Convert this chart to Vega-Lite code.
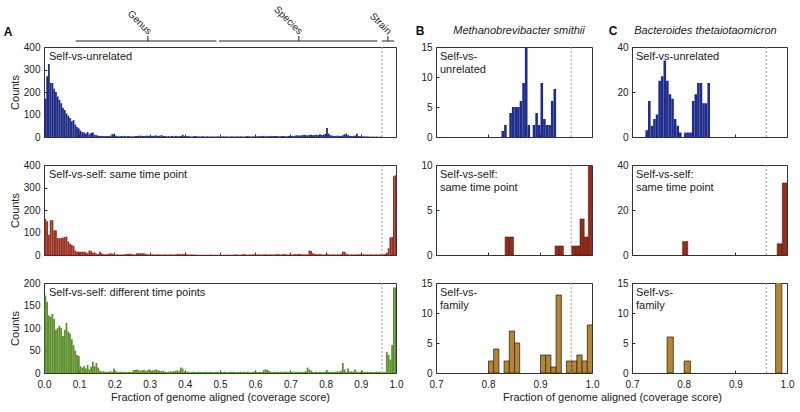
{
"$schema": "https://vega.github.io/schema/vega-lite/v6.json",
"padding": {"left": 3, "top": 3, "right": 0, "bottom": 0},
"columns": 3,
"bounds": "flush",
"spacing": {"row": 28, "column": 40},
"config": {
  "view": {"stroke": "#333333", "strokeWidth": 1},
  "font": "Liberation Sans",
  "axis": {"grid": false, "domain": false, "tickColor": "#333333", "tickSize": -3, "tickWidth": 1, "labelFontSize": 10, "labelColor": "#222222", "titleFontSize": 11, "titleFontWeight": "normal", "titleColor": "#222222", "labelFont": "Liberation Sans", "titleFont": "Liberation Sans", "labelFlush": false, "labelOverlap": false},
  "axisX": {"labelPadding": 9, "titlePadding": 2, "labelOverlap": false},
  "axisY": {"labelPadding": 7, "titlePadding": 3, "labelOverlap": false},
  "text": {"font": "Liberation Sans"}
},
"datasets": {
"brackets": [{"lab":"Genus","lo":0.09,"hi":0.49,"m":0.295},{"lab":"Species","lo":0.497,"hi":0.947,"m":0.724},{"lab":"Strain","lo":0.96,"hi":0.995,"m":0.977}],
"Au": [{"x":0,"c":170},{"x":0.005,"c":270},{"x":0.01,"c":325},{"x":0.015,"c":240},{"x":0.02,"c":240},{"x":0.025,"c":215},{"x":0.03,"c":200},{"x":0.035,"c":180},{"x":0.04,"c":165},{"x":0.045,"c":150},
{"x":0.05,"c":130},{"x":0.055,"c":120},{"x":0.06,"c":105},{"x":0.065,"c":95},{"x":0.07,"c":85},{"x":0.075,"c":70},{"x":0.08,"c":75},{"x":0.085,"c":55},{"x":0.09,"c":45},{"x":0.095,"c":38},
{"x":0.1,"c":28},{"x":0.105,"c":22},{"x":0.11,"c":20},{"x":0.115,"c":15},{"x":0.12,"c":22},{"x":0.125,"c":12},{"x":0.13,"c":18},{"x":0.135,"c":20},{"x":0.14,"c":10},{"x":0.145,"c":8},
{"x":0.15,"c":6},{"x":0.155,"c":5},{"x":0.16,"c":5},{"x":0.165,"c":4},{"x":0.17,"c":4},{"x":0.175,"c":5},{"x":0.18,"c":4},{"x":0.185,"c":6},{"x":0.19,"c":12},{"x":0.195,"c":14},
{"x":0.2,"c":6},{"x":0.205,"c":4},{"x":0.21,"c":3},{"x":0.215,"c":4},{"x":0.22,"c":3},{"x":0.225,"c":5},{"x":0.23,"c":3},{"x":0.235,"c":4},{"x":0.24,"c":3},{"x":0.245,"c":3},
{"x":0.25,"c":3},{"x":0.255,"c":4},{"x":0.26,"c":4},{"x":0.265,"c":5},{"x":0.27,"c":6},{"x":0.275,"c":5},{"x":0.28,"c":4},{"x":0.285,"c":5},{"x":0.29,"c":6},{"x":0.295,"c":5},
{"x":0.3,"c":4},{"x":0.305,"c":5},{"x":0.31,"c":6},{"x":0.315,"c":7},{"x":0.32,"c":5},{"x":0.325,"c":6},{"x":0.33,"c":8},{"x":0.335,"c":5},{"x":0.34,"c":4},{"x":0.345,"c":3},
{"x":0.35,"c":4},{"x":0.355,"c":3},{"x":0.36,"c":4},{"x":0.365,"c":3},{"x":0.37,"c":5},{"x":0.375,"c":4},{"x":0.38,"c":3},{"x":0.385,"c":4},{"x":0.39,"c":10},{"x":0.395,"c":4},
{"x":0.4,"c":3},{"x":0.405,"c":4},{"x":0.41,"c":3},{"x":0.415,"c":2},{"x":0.42,"c":3},{"x":0.425,"c":4},{"x":0.43,"c":3},{"x":0.435,"c":3},{"x":0.44,"c":2},{"x":0.445,"c":3},
{"x":0.45,"c":3},{"x":0.455,"c":2},{"x":0.46,"c":3},{"x":0.465,"c":2},{"x":0.47,"c":2},{"x":0.475,"c":3},{"x":0.48,"c":2},{"x":0.485,"c":2},{"x":0.49,"c":3},{"x":0.495,"c":2},
{"x":0.5,"c":2},{"x":0.505,"c":3},{"x":0.51,"c":2},{"x":0.515,"c":3},{"x":0.52,"c":2},{"x":0.525,"c":2},{"x":0.53,"c":3},{"x":0.535,"c":2},{"x":0.54,"c":2},{"x":0.545,"c":3},
{"x":0.55,"c":2},{"x":0.555,"c":3},{"x":0.56,"c":2},{"x":0.565,"c":2},{"x":0.57,"c":3},{"x":0.575,"c":4},{"x":0.58,"c":3},{"x":0.585,"c":2},{"x":0.59,"c":3},{"x":0.595,"c":2},
{"x":0.6,"c":3},{"x":0.605,"c":4},{"x":0.61,"c":3},{"x":0.615,"c":4},{"x":0.62,"c":5},{"x":0.625,"c":3},{"x":0.63,"c":4},{"x":0.635,"c":3},{"x":0.64,"c":5},{"x":0.645,"c":4},
{"x":0.65,"c":4},{"x":0.655,"c":5},{"x":0.66,"c":4},{"x":0.665,"c":3},{"x":0.67,"c":4},{"x":0.675,"c":5},{"x":0.68,"c":4},{"x":0.685,"c":3},{"x":0.69,"c":5},{"x":0.695,"c":4},
{"x":0.7,"c":5},{"x":0.705,"c":4},{"x":0.71,"c":6},{"x":0.715,"c":8},{"x":0.72,"c":6},{"x":0.725,"c":7},{"x":0.73,"c":8},{"x":0.735,"c":10},{"x":0.74,"c":8},{"x":0.745,"c":7},
{"x":0.75,"c":9},{"x":0.755,"c":10},{"x":0.76,"c":8},{"x":0.765,"c":9},{"x":0.77,"c":10},{"x":0.775,"c":8},{"x":0.78,"c":12},{"x":0.785,"c":9},{"x":0.79,"c":10},{"x":0.795,"c":14},
{"x":0.8,"c":40},{"x":0.805,"c":15},{"x":0.81,"c":8},{"x":0.815,"c":6},{"x":0.82,"c":5},{"x":0.825,"c":4},{"x":0.83,"c":6},{"x":0.835,"c":5},{"x":0.84,"c":4},{"x":0.845,"c":8},
{"x":0.85,"c":12},{"x":0.855,"c":15},{"x":0.86,"c":8},{"x":0.865,"c":5},{"x":0.87,"c":4},{"x":0.875,"c":5},{"x":0.88,"c":6},{"x":0.885,"c":15},{"x":0.89,"c":5},{"x":0.895,"c":3},
{"x":0.9,"c":2},{"x":0.905,"c":3},{"x":0.91,"c":2},{"x":0.915,"c":3},{"x":0.92,"c":2},{"x":0.925,"c":1},{"x":0.93,"c":2},{"x":0.935,"c":1},{"x":0.94,"c":2},{"x":0.945,"c":1},
{"x":0.95,"c":1},{"x":0.955,"c":2}],
"As": [{"x":0,"c":160},{"x":0.005,"c":150},{"x":0.01,"c":90},{"x":0.015,"c":155},{"x":0.02,"c":155},{"x":0.025,"c":110},{"x":0.03,"c":110},{"x":0.035,"c":75},{"x":0.04,"c":75},{"x":0.045,"c":75},
{"x":0.05,"c":78},{"x":0.055,"c":80},{"x":0.06,"c":82},{"x":0.065,"c":60},{"x":0.07,"c":50},{"x":0.075,"c":45},{"x":0.08,"c":40},{"x":0.085,"c":20},{"x":0.09,"c":15},{"x":0.095,"c":15},
{"x":0.1,"c":14},{"x":0.105,"c":15},{"x":0.11,"c":15},{"x":0.115,"c":12},{"x":0.12,"c":8},{"x":0.125,"c":20},{"x":0.13,"c":18},{"x":0.135,"c":10},{"x":0.14,"c":12},{"x":0.145,"c":6},
{"x":0.15,"c":5},{"x":0.155,"c":15},{"x":0.16,"c":8},{"x":0.165,"c":4},{"x":0.17,"c":3},{"x":0.175,"c":3},{"x":0.18,"c":5},{"x":0.185,"c":8},{"x":0.19,"c":6},{"x":0.195,"c":3},
{"x":0.2,"c":2},{"x":0.205,"c":3},{"x":0.21,"c":2},{"x":0.215,"c":2},{"x":0.22,"c":2},{"x":0.225,"c":3},{"x":0.23,"c":5},{"x":0.235,"c":5},{"x":0.24,"c":6},{"x":0.245,"c":4},
{"x":0.25,"c":3},{"x":0.255,"c":2},{"x":0.26,"c":8},{"x":0.265,"c":8},{"x":0.27,"c":8},{"x":0.275,"c":7},{"x":0.28,"c":8},{"x":0.285,"c":5},{"x":0.29,"c":3},{"x":0.295,"c":2},
{"x":0.3,"c":2},{"x":0.305,"c":3},{"x":0.31,"c":2},{"x":0.315,"c":2},{"x":0.32,"c":3},{"x":0.325,"c":2},{"x":0.33,"c":2},{"x":0.335,"c":2},{"x":0.34,"c":3},{"x":0.345,"c":2},
{"x":0.35,"c":2},{"x":0.355,"c":3},{"x":0.36,"c":2},{"x":0.365,"c":2},{"x":0.37,"c":3},{"x":0.375,"c":5},{"x":0.38,"c":4},{"x":0.385,"c":3},{"x":0.39,"c":5},{"x":0.395,"c":4},
{"x":0.4,"c":3},{"x":0.405,"c":2},{"x":0.41,"c":2},{"x":0.415,"c":3},{"x":0.42,"c":2},{"x":0.425,"c":2},{"x":0.43,"c":1},{"x":0.435,"c":1},{"x":0.44,"c":1},{"x":0.445,"c":1},
{"x":0.45,"c":1},{"x":0.455,"c":1},{"x":0.46,"c":1},{"x":0.465,"c":1},{"x":0.47,"c":2},{"x":0.475,"c":1},{"x":0.48,"c":1},{"x":0.485,"c":1},{"x":0.49,"c":1},{"x":0.495,"c":1},
{"x":0.5,"c":1},{"x":0.505,"c":1},{"x":0.51,"c":1},{"x":0.515,"c":1},{"x":0.52,"c":2},{"x":0.525,"c":1},{"x":0.53,"c":1},{"x":0.535,"c":2},{"x":0.54,"c":3},{"x":0.545,"c":2},
{"x":0.55,"c":1},{"x":0.555,"c":2},{"x":0.56,"c":3},{"x":0.565,"c":4},{"x":0.57,"c":2},{"x":0.575,"c":1},{"x":0.58,"c":2},{"x":0.585,"c":2},{"x":0.59,"c":3},{"x":0.595,"c":2},
{"x":0.6,"c":2},{"x":0.605,"c":3},{"x":0.61,"c":2},{"x":0.615,"c":2},{"x":0.62,"c":3},{"x":0.625,"c":4},{"x":0.63,"c":2},{"x":0.635,"c":2},{"x":0.64,"c":3},{"x":0.645,"c":2},
{"x":0.65,"c":2},{"x":0.655,"c":3},{"x":0.66,"c":5},{"x":0.665,"c":3},{"x":0.67,"c":2},{"x":0.675,"c":3},{"x":0.68,"c":4},{"x":0.685,"c":3},{"x":0.69,"c":2},{"x":0.695,"c":3},
{"x":0.7,"c":2},{"x":0.705,"c":3},{"x":0.71,"c":4},{"x":0.715,"c":3},{"x":0.72,"c":5},{"x":0.725,"c":4},{"x":0.73,"c":3},{"x":0.735,"c":2},{"x":0.74,"c":3},{"x":0.745,"c":2},
{"x":0.75,"c":20},{"x":0.755,"c":18},{"x":0.76,"c":8},{"x":0.765,"c":5},{"x":0.77,"c":4},{"x":0.775,"c":3},{"x":0.78,"c":4},{"x":0.785,"c":3},{"x":0.79,"c":2},{"x":0.795,"c":3},
{"x":0.8,"c":4},{"x":0.805,"c":3},{"x":0.81,"c":2},{"x":0.815,"c":3},{"x":0.82,"c":2},{"x":0.825,"c":2},{"x":0.83,"c":3},{"x":0.835,"c":2},{"x":0.84,"c":3},{"x":0.845,"c":15},
{"x":0.85,"c":14},{"x":0.855,"c":6},{"x":0.86,"c":3},{"x":0.865,"c":2},{"x":0.87,"c":3},{"x":0.875,"c":2},{"x":0.88,"c":3},{"x":0.885,"c":2},{"x":0.89,"c":4},{"x":0.895,"c":3},
{"x":0.9,"c":2},{"x":0.905,"c":3},{"x":0.91,"c":2},{"x":0.915,"c":3},{"x":0.92,"c":2},{"x":0.925,"c":3},{"x":0.93,"c":2},{"x":0.935,"c":2},{"x":0.94,"c":3},{"x":0.945,"c":2},
{"x":0.95,"c":3},{"x":0.955,"c":2},{"x":0.96,"c":3},{"x":0.965,"c":5},{"x":0.97,"c":10},{"x":0.975,"c":30},{"x":0.98,"c":78},{"x":0.985,"c":80},{"x":0.99,"c":350},{"x":0.995,"c":355}],
"Ad": [{"x":0,"c":172},{"x":0.005,"c":158},{"x":0.01,"c":128},{"x":0.015,"c":125},{"x":0.02,"c":131},{"x":0.025,"c":120},{"x":0.03,"c":96},{"x":0.035,"c":100},{"x":0.04,"c":105},{"x":0.045,"c":100},
{"x":0.05,"c":82},{"x":0.055,"c":96},{"x":0.06,"c":111},{"x":0.065,"c":92},{"x":0.07,"c":88},{"x":0.075,"c":75},{"x":0.08,"c":62},{"x":0.085,"c":50},{"x":0.09,"c":40},{"x":0.095,"c":38},
{"x":0.1,"c":15},{"x":0.105,"c":12},{"x":0.11,"c":15},{"x":0.115,"c":10},{"x":0.12,"c":18},{"x":0.125,"c":8},{"x":0.13,"c":14},{"x":0.135,"c":25},{"x":0.14,"c":15},{"x":0.145,"c":22},
{"x":0.15,"c":12},{"x":0.155,"c":5},{"x":0.16,"c":3},{"x":0.165,"c":4},{"x":0.17,"c":3},{"x":0.175,"c":2},{"x":0.18,"c":3},{"x":0.185,"c":4},{"x":0.19,"c":3},{"x":0.195,"c":10},
{"x":0.2,"c":4},{"x":0.205,"c":3},{"x":0.21,"c":2},{"x":0.215,"c":3},{"x":0.22,"c":2},{"x":0.225,"c":3},{"x":0.23,"c":2},{"x":0.235,"c":2},{"x":0.24,"c":3},{"x":0.245,"c":2},
{"x":0.25,"c":6},{"x":0.255,"c":7},{"x":0.26,"c":8},{"x":0.265,"c":6},{"x":0.27,"c":5},{"x":0.275,"c":6},{"x":0.28,"c":7},{"x":0.285,"c":5},{"x":0.29,"c":6},{"x":0.295,"c":8},
{"x":0.3,"c":5},{"x":0.305,"c":6},{"x":0.31,"c":7},{"x":0.315,"c":8},{"x":0.32,"c":6},{"x":0.325,"c":5},{"x":0.33,"c":4},{"x":0.335,"c":5},{"x":0.34,"c":3},{"x":0.345,"c":2},
{"x":0.35,"c":3},{"x":0.355,"c":4},{"x":0.36,"c":3},{"x":0.365,"c":4},{"x":0.37,"c":5},{"x":0.375,"c":6},{"x":0.38,"c":4},{"x":0.385,"c":12},{"x":0.39,"c":10},{"x":0.395,"c":3},
{"x":0.4,"c":2},{"x":0.405,"c":3},{"x":0.41,"c":2},{"x":0.415,"c":2},{"x":0.42,"c":3},{"x":0.425,"c":2},{"x":0.43,"c":2},{"x":0.435,"c":3},{"x":0.44,"c":2},{"x":0.445,"c":2},
{"x":0.45,"c":2},{"x":0.455,"c":3},{"x":0.46,"c":2},{"x":0.465,"c":2},{"x":0.47,"c":3},{"x":0.475,"c":2},{"x":0.48,"c":2},{"x":0.485,"c":3},{"x":0.49,"c":2},{"x":0.495,"c":2},
{"x":0.5,"c":2},{"x":0.505,"c":2},{"x":0.51,"c":3},{"x":0.515,"c":2},{"x":0.52,"c":2},{"x":0.525,"c":3},{"x":0.53,"c":2},{"x":0.535,"c":3},{"x":0.54,"c":2},{"x":0.545,"c":2},
{"x":0.55,"c":2},{"x":0.555,"c":3},{"x":0.56,"c":2},{"x":0.565,"c":3},{"x":0.57,"c":2},{"x":0.575,"c":3},{"x":0.58,"c":2},{"x":0.585,"c":2},{"x":0.59,"c":3},{"x":0.595,"c":2},
{"x":0.6,"c":3},{"x":0.605,"c":2},{"x":0.61,"c":3},{"x":0.615,"c":2},{"x":0.62,"c":6},{"x":0.625,"c":8},{"x":0.63,"c":7},{"x":0.635,"c":5},{"x":0.64,"c":3},{"x":0.645,"c":2},
{"x":0.65,"c":3},{"x":0.655,"c":2},{"x":0.66,"c":3},{"x":0.665,"c":2},{"x":0.67,"c":3},{"x":0.675,"c":2},{"x":0.68,"c":3},{"x":0.685,"c":3},{"x":0.69,"c":2},{"x":0.695,"c":3},
{"x":0.7,"c":2},{"x":0.705,"c":3},{"x":0.71,"c":2},{"x":0.715,"c":3},{"x":0.72,"c":2},{"x":0.725,"c":3},{"x":0.73,"c":2},{"x":0.735,"c":3},{"x":0.74,"c":4},{"x":0.745,"c":12},
{"x":0.75,"c":8},{"x":0.755,"c":5},{"x":0.76,"c":3},{"x":0.765,"c":2},{"x":0.77,"c":3},{"x":0.775,"c":2},{"x":0.78,"c":3},{"x":0.785,"c":2},{"x":0.79,"c":2},{"x":0.795,"c":3},
{"x":0.8,"c":6},{"x":0.805,"c":3},{"x":0.81,"c":2},{"x":0.815,"c":3},{"x":0.82,"c":2},{"x":0.825,"c":3},{"x":0.83,"c":4},{"x":0.835,"c":3},{"x":0.84,"c":5},{"x":0.845,"c":22},
{"x":0.85,"c":8},{"x":0.855,"c":3},{"x":0.86,"c":10},{"x":0.865,"c":3},{"x":0.87,"c":4},{"x":0.875,"c":3},{"x":0.88,"c":8},{"x":0.885,"c":3},{"x":0.89,"c":2},{"x":0.895,"c":3},
{"x":0.9,"c":5},{"x":0.905,"c":2},{"x":0.91,"c":2},{"x":0.915,"c":3},{"x":0.92,"c":2},{"x":0.925,"c":3},{"x":0.93,"c":2},{"x":0.935,"c":2},{"x":0.94,"c":3},{"x":0.945,"c":2},
{"x":0.95,"c":3},{"x":0.955,"c":2},{"x":0.96,"c":2},{"x":0.965,"c":2},{"x":0.97,"c":47},{"x":0.975,"c":40},{"x":0.98,"c":30},{"x":0.985,"c":62},{"x":0.99,"c":190},{"x":0.995,"c":190}],
"Bu": [{"x":0.825,"c":1},{"x":0.83,"c":2},{"x":0.84,"c":4},{"x":0.845,"c":5},{"x":0.85,"c":5},{"x":0.855,"c":5},{"x":0.86,"c":6},{"x":0.865,"c":9},{"x":0.87,"c":15},{"x":0.875,"c":2},{"x":0.885,"c":2},{"x":0.89,"c":4},{"x":0.895,"c":2},{"x":0.9,"c":9},{"x":0.905,"c":3},{"x":0.91,"c":2},{"x":0.915,"c":2},{"x":0.92,"c":6},{"x":0.925,"c":8}],
"Bs": [{"x":0.832,"c":2},{"x":0.84,"c":2},{"x":0.928,"c":1},{"x":0.936,"c":1},{"x":0.96,"c":1},{"x":0.968,"c":1},{"x":0.976,"c":4},{"x":0.984,"c":2},{"x":0.992,"c":10}],
"Bf": [{"x":0.8,"c":2},{"x":0.81,"c":4},{"x":0.83,"c":2},{"x":0.84,"c":7},{"x":0.85,"c":5},{"x":0.9,"c":3},{"x":0.91,"c":3},{"x":0.92,"c":1},{"x":0.93,"c":13},{"x":0.95,"c":2},{"x":0.96,"c":2},{"x":0.97,"c":3},{"x":0.98,"c":2},{"x":0.99,"c":8}],
"Cu": [{"x":0.725,"c":3},{"x":0.73,"c":16},{"x":0.735,"c":5},{"x":0.74,"c":8},{"x":0.745,"c":10},{"x":0.75,"c":25},{"x":0.755,"c":27},{"x":0.76,"c":34},{"x":0.765,"c":25},{"x":0.77,"c":19},{"x":0.775,"c":17},{"x":0.78,"c":8},{"x":0.785,"c":5},{"x":0.79,"c":2},{"x":0.8,"c":2},{"x":0.805,"c":2},{"x":0.81,"c":2},{"x":0.815,"c":16},{"x":0.82,"c":19},{"x":0.825,"c":24},{"x":0.83,"c":24},{"x":0.835,"c":15},{"x":0.84,"c":15},{"x":0.845,"c":24}],
"Cs": [{"x":0.797,"c":6},{"x":0.98,"c":5},{"x":0.99,"c":32}],
"Cf": [{"x":0.767,"c":6},{"x":0.8,"c":2},{"x":0.977,"c":16}]
},
"concat": [
{
 "width": 352, "height": 90,
 "layer": [
  {"data": {"name": "Au"}, "mark": {"type": "bar", "color": "#1d2a84", "binSpacing": 0, "clip": true},
   "encoding": {
    "x": {"field": "x", "type": "quantitative", "bin": {"binned": true, "step": 0.005}, "scale": {"domain": [0, 1], "nice": false, "zero": false}, "axis": {"values": [0,0.1,0.2,0.3,0.4,0.5,0.6,0.7,0.8,0.9,1], "tickCount": 20, "labels": false, "title": null}},
    "y": {"field": "c", "type": "quantitative", "scale": {"domain": [0, 400], "nice": false}, "axis": {"values": [0,100,200,300,400], "tickCount": 10, "title": "Counts"}}}},
  {"data": {"values": [{"v": 0.96}]}, "mark": {"type": "rule", "color": "#9a9a9a", "strokeDash": [2, 2]}, "encoding": {"x": {"field": "v", "type": "quantitative"}}},
  {"data": {"values": [{"t": "Self-vs-unrelated"}]}, "mark": {"type": "text", "align": "left", "baseline": "top", "xOffset": 5, "yOffset": 4, "fontSize": 11, "color": "#222222"}, "encoding": {"text": {"field": "t"}, "x": {"datum": 0}, "y": {"datum": 400}}},
  {"data": {"values": [{"t": "A"}]}, "mark": {"type": "text", "align": "center", "baseline": "middle", "xOffset": -36, "yOffset": -15, "fontSize": 12, "fontWeight": "bold", "color": "#111111"}, "encoding": {"text": {"field": "t"}, "x": {"datum": 0}, "y": {"datum": 400}}},
  {"data": {"name": "brackets"}, "mark": {"type": "rule", "color": "#222222", "yOffset": -6}, "encoding": {"x": {"field": "lo", "type": "quantitative"}, "x2": {"field": "hi"}, "y": {"datum": 400}}},
  {"data": {"name": "brackets"}, "mark": {"type": "rule", "color": "#222222", "yOffset": -6, "y2Offset": -11}, "encoding": {"x": {"field": "m", "type": "quantitative"}, "y": {"datum": 400}, "y2": {"datum": 400}}},
  {"data": {"name": "brackets"}, "mark": {"type": "text", "angle": 45, "align": "right", "baseline": "middle", "xOffset": 2, "yOffset": -14, "fontSize": 10, "color": "#222222"}, "encoding": {"text": {"field": "lab"}, "x": {"field": "m", "type": "quantitative"}, "y": {"datum": 400}}}
 ]
},
{
 "width": 156, "height": 90,
 "layer": [
  {"data": {"name": "Bu"}, "mark": {"type": "bar", "color": "#1e2d8c", "binSpacing": 0, "clip": true},
   "encoding": {
    "x": {"field": "x", "type": "quantitative", "bin": {"binned": true, "step": 0.005}, "scale": {"domain": [0.7, 1], "nice": false, "zero": false}, "axis": {"values": [0.7,0.8,0.9,1], "tickCount": 10, "labels": false, "title": null}},
    "y": {"field": "c", "type": "quantitative", "scale": {"domain": [0, 15], "nice": false}, "axis": {"values": [0,5,10,15], "tickCount": 10, "title": null}}}},
  {"data": {"values": [{"v": 0.96}]}, "mark": {"type": "rule", "color": "#9a9a9a", "strokeDash": [2, 2]}, "encoding": {"x": {"field": "v", "type": "quantitative"}}},
  {"data": {"values": [{"t": "Self-vs-\nunrelated"}]}, "mark": {"type": "text", "align": "left", "baseline": "top", "lineBreak": "\n", "lineHeight": 13, "xOffset": 4, "yOffset": 4, "fontSize": 11, "color": "#222222"}, "encoding": {"text": {"field": "t"}, "x": {"datum": 0.7}, "y": {"datum": 15}}},
  {"data": {"values": [{"t": "B"}]}, "mark": {"type": "text", "align": "center", "baseline": "middle", "xOffset": -16, "yOffset": -16, "fontSize": 12, "fontWeight": "bold", "color": "#111111"}, "encoding": {"text": {"field": "t"}, "x": {"datum": 0.7}, "y": {"datum": 15}}},
  {"data": {"values": [{"t": "Methanobrevibacter smithii"}]}, "mark": {"type": "text", "align": "center", "baseline": "middle", "xOffset": 5, "yOffset": -16, "fontSize": 11, "fontStyle": "italic", "color": "#222222"}, "encoding": {"text": {"field": "t"}, "x": {"datum": 0.85}, "y": {"datum": 15}}}
 ]
},
{
 "width": 155, "height": 90,
 "layer": [
  {"data": {"name": "Cu"}, "mark": {"type": "bar", "color": "#1e2d8c", "binSpacing": 0, "clip": true},
   "encoding": {
    "x": {"field": "x", "type": "quantitative", "bin": {"binned": true, "step": 0.005}, "scale": {"domain": [0.7, 1], "nice": false, "zero": false}, "axis": {"values": [0.7,0.8,0.9,1], "tickCount": 10, "labels": false, "title": null}},
    "y": {"field": "c", "type": "quantitative", "scale": {"domain": [0, 40], "nice": false}, "axis": {"values": [0,20,40], "tickCount": 10, "title": null}}}},
  {"data": {"values": [{"v": 0.96}]}, "mark": {"type": "rule", "color": "#9a9a9a", "strokeDash": [2, 2]}, "encoding": {"x": {"field": "v", "type": "quantitative"}}},
  {"data": {"values": [{"t": "Self-vs-unrelated"}]}, "mark": {"type": "text", "align": "left", "baseline": "top", "xOffset": 4, "yOffset": 4, "fontSize": 11, "color": "#222222"}, "encoding": {"text": {"field": "t"}, "x": {"datum": 0.7}, "y": {"datum": 40}}},
  {"data": {"values": [{"t": "C"}]}, "mark": {"type": "text", "align": "center", "baseline": "middle", "xOffset": -19, "yOffset": -16, "fontSize": 12, "fontWeight": "bold", "color": "#111111"}, "encoding": {"text": {"field": "t"}, "x": {"datum": 0.7}, "y": {"datum": 40}}},
  {"data": {"values": [{"t": "Bacteroides thetaiotaomicron"}]}, "mark": {"type": "text", "align": "center", "baseline": "middle", "xOffset": -4, "yOffset": -16, "fontSize": 11, "fontStyle": "italic", "color": "#222222"}, "encoding": {"text": {"field": "t"}, "x": {"datum": 0.85}, "y": {"datum": 40}}}
 ]
},
{
 "width": 352, "height": 90,
 "layer": [
  {"data": {"name": "As"}, "mark": {"type": "bar", "color": "#9a2e1e", "binSpacing": 0, "clip": true},
   "encoding": {
    "x": {"field": "x", "type": "quantitative", "bin": {"binned": true, "step": 0.005}, "scale": {"domain": [0, 1], "nice": false, "zero": false}, "axis": {"values": [0,0.1,0.2,0.3,0.4,0.5,0.6,0.7,0.8,0.9,1], "tickCount": 20, "labels": false, "title": null}},
    "y": {"field": "c", "type": "quantitative", "scale": {"domain": [0, 400], "nice": false}, "axis": {"values": [0,100,200,300,400], "tickCount": 10, "title": "Counts"}}}},
  {"data": {"values": [{"v": 0.96}]}, "mark": {"type": "rule", "color": "#9a9a9a", "strokeDash": [2, 2]}, "encoding": {"x": {"field": "v", "type": "quantitative"}}},
  {"data": {"values": [{"t": "Self-vs-self: same time point"}]}, "mark": {"type": "text", "align": "left", "baseline": "top", "xOffset": 5, "yOffset": 4, "fontSize": 11, "color": "#222222"}, "encoding": {"text": {"field": "t"}, "x": {"datum": 0}, "y": {"datum": 400}}}
 ]
},
{
 "width": 156, "height": 90,
 "layer": [
  {"data": {"name": "Bs"}, "mark": {"type": "bar", "color": "#922c1c", "stroke": "#5a1a10", "strokeWidth": 0.6, "binSpacing": 0, "clip": true},
   "encoding": {
    "x": {"field": "x", "type": "quantitative", "bin": {"binned": true, "step": 0.008}, "scale": {"domain": [0.7, 1], "nice": false, "zero": false}, "axis": {"values": [0.7,0.8,0.9,1], "tickCount": 10, "labels": false, "title": null}},
    "y": {"field": "c", "type": "quantitative", "scale": {"domain": [0, 10], "nice": false}, "axis": {"values": [0,5,10], "tickCount": 10, "title": null}}}},
  {"data": {"values": [{"v": 0.96}]}, "mark": {"type": "rule", "color": "#9a9a9a", "strokeDash": [2, 2]}, "encoding": {"x": {"field": "v", "type": "quantitative"}}},
  {"data": {"values": [{"t": "Self-vs-self:\nsame time point"}]}, "mark": {"type": "text", "align": "left", "baseline": "top", "lineBreak": "\n", "lineHeight": 13, "xOffset": 4, "yOffset": 4, "fontSize": 11, "color": "#222222"}, "encoding": {"text": {"field": "t"}, "x": {"datum": 0.7}, "y": {"datum": 10}}}
 ]
},
{
 "width": 155, "height": 90,
 "layer": [
  {"data": {"name": "Cs"}, "mark": {"type": "bar", "color": "#922c1c", "stroke": "#5a1a10", "strokeWidth": 0.6, "binSpacing": 0, "clip": true},
   "encoding": {
    "x": {"field": "x", "type": "quantitative", "bin": {"binned": true, "step": 0.01}, "scale": {"domain": [0.7, 1], "nice": false, "zero": false}, "axis": {"values": [0.7,0.8,0.9,1], "tickCount": 10, "labels": false, "title": null}},
    "y": {"field": "c", "type": "quantitative", "scale": {"domain": [0, 40], "nice": false}, "axis": {"values": [0,20,40], "tickCount": 10, "title": null}}}},
  {"data": {"values": [{"v": 0.96}]}, "mark": {"type": "rule", "color": "#9a9a9a", "strokeDash": [2, 2]}, "encoding": {"x": {"field": "v", "type": "quantitative"}}},
  {"data": {"values": [{"t": "Self-vs-self:\nsame time point"}]}, "mark": {"type": "text", "align": "left", "baseline": "top", "lineBreak": "\n", "lineHeight": 13, "xOffset": 4, "yOffset": 4, "fontSize": 11, "color": "#222222"}, "encoding": {"text": {"field": "t"}, "x": {"datum": 0.7}, "y": {"datum": 40}}}
 ]
},
{
 "width": 352, "height": 90,
 "layer": [
  {"data": {"name": "Ad"}, "mark": {"type": "bar", "color": "#5b8f2c", "binSpacing": 0, "clip": true},
   "encoding": {
    "x": {"field": "x", "type": "quantitative", "bin": {"binned": true, "step": 0.005}, "scale": {"domain": [0, 1], "nice": false, "zero": false}, "axis": {"values": [0,0.1,0.2,0.3,0.4,0.5,0.6,0.7,0.8,0.9,1], "tickCount": 20, "format": ".1f", "title": "Fraction of genome aligned (coverage score)"}},
    "y": {"field": "c", "type": "quantitative", "scale": {"domain": [0, 200], "nice": false}, "axis": {"values": [0,50,100,150,200], "tickCount": 10, "title": "Counts"}}}},
  {"data": {"values": [{"v": 0.96}]}, "mark": {"type": "rule", "color": "#9a9a9a", "strokeDash": [2, 2]}, "encoding": {"x": {"field": "v", "type": "quantitative"}}},
  {"data": {"values": [{"t": "Self-vs-self: different time points"}]}, "mark": {"type": "text", "align": "left", "baseline": "top", "xOffset": 5, "yOffset": 4, "fontSize": 11, "color": "#222222"}, "encoding": {"text": {"field": "t"}, "x": {"datum": 0}, "y": {"datum": 200}}}
 ]
},
{
 "width": 156, "height": 90,
 "layer": [
  {"data": {"name": "Bf"}, "mark": {"type": "bar", "color": "#b38637", "stroke": "#3b2a12", "strokeWidth": 0.8, "binSpacing": 0, "clip": true},
   "encoding": {
    "x": {"field": "x", "type": "quantitative", "bin": {"binned": true, "step": 0.01}, "scale": {"domain": [0.7, 1], "nice": false, "zero": false}, "axis": {"values": [0.7,0.8,0.9,1], "tickCount": 10, "format": ".1f", "title": "Fraction of genome aligned (coverage score)", "titleX": 176}},
    "y": {"field": "c", "type": "quantitative", "scale": {"domain": [0, 15], "nice": false}, "axis": {"values": [0,5,10,15], "tickCount": 10, "title": null}}}},
  {"data": {"values": [{"v": 0.96}]}, "mark": {"type": "rule", "color": "#9a9a9a", "strokeDash": [2, 2]}, "encoding": {"x": {"field": "v", "type": "quantitative"}}},
  {"data": {"values": [{"t": "Self-vs-\nfamily"}]}, "mark": {"type": "text", "align": "left", "baseline": "top", "lineBreak": "\n", "lineHeight": 13, "xOffset": 4, "yOffset": 4, "fontSize": 11, "color": "#222222"}, "encoding": {"text": {"field": "t"}, "x": {"datum": 0.7}, "y": {"datum": 15}}}
 ]
},
{
 "width": 155, "height": 90,
 "layer": [
  {"data": {"name": "Cf"}, "mark": {"type": "bar", "color": "#b38637", "stroke": "#3b2a12", "strokeWidth": 0.8, "binSpacing": 0, "clip": true},
   "encoding": {
    "x": {"field": "x", "type": "quantitative", "bin": {"binned": true, "step": 0.012}, "scale": {"domain": [0.7, 1], "nice": false, "zero": false}, "axis": {"values": [0.7,0.8,0.9,1], "tickCount": 10, "format": ".1f", "title": null}},
    "y": {"field": "c", "type": "quantitative", "scale": {"domain": [0, 15], "nice": false}, "axis": {"values": [0,5,10,15], "tickCount": 10, "title": null}}}},
  {"data": {"values": [{"v": 0.96}]}, "mark": {"type": "rule", "color": "#9a9a9a", "strokeDash": [2, 2]}, "encoding": {"x": {"field": "v", "type": "quantitative"}}},
  {"data": {"values": [{"t": "Self-vs-\nfamily"}]}, "mark": {"type": "text", "align": "left", "baseline": "top", "lineBreak": "\n", "lineHeight": 13, "xOffset": 4, "yOffset": 4, "fontSize": 11, "color": "#222222"}, "encoding": {"text": {"field": "t"}, "x": {"datum": 0.7}, "y": {"datum": 15}}}
 ]
}
]
}
